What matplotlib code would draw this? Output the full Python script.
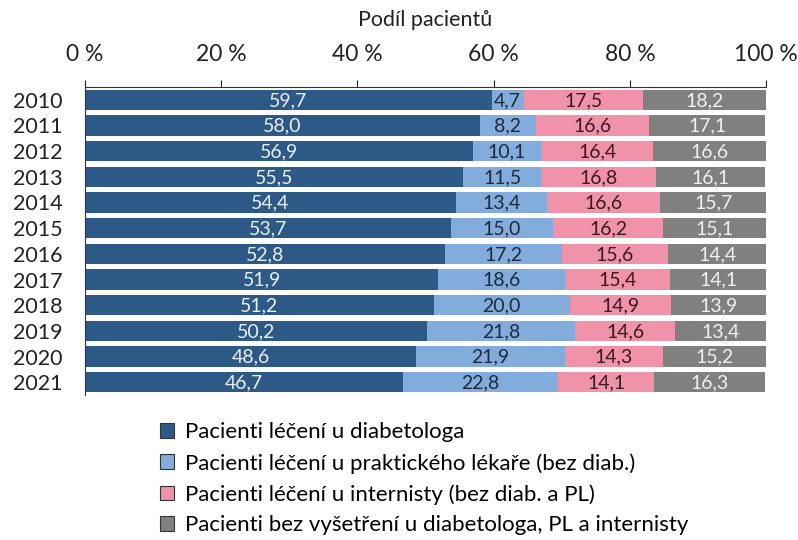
import matplotlib.pyplot as plt
import matplotlib.ticker as mticker
from matplotlib.patches import Patch

plt.rcParams['font.family'] = ['Lato', 'DejaVu Sans']

roky = ['2010', '2011', '2012', '2013', '2014', '2015', '2016', '2017', '2018', '2019', '2020', '2021']
diabetolog = [59.7, 58.0, 56.9, 55.5, 54.4, 53.7, 52.8, 51.9, 51.2, 50.2, 48.6, 46.7]
prakticky = [4.7, 8.2, 10.1, 11.5, 13.4, 15.0, 17.2, 18.6, 20.0, 21.8, 21.9, 22.8]
internista = [17.5, 16.6, 16.4, 16.8, 16.6, 16.2, 15.6, 15.4, 14.9, 14.6, 14.3, 14.1]
bez_vysetreni = [18.2, 17.1, 16.6, 16.1, 15.7, 15.1, 14.4, 14.1, 13.9, 13.4, 15.2, 16.3]

nazvy = ['Pacienti léčení u diabetologa',
         'Pacienti léčení u praktického lékaře (bez diab.)',
         'Pacienti léčení u internisty (bez diab. a PL)',
         'Pacienti bez vyšetření u diabetologa, PL a internisty']
barvy = ['#2d5986', '#82acdb', '#f092aa', '#808080']
barvy_textu = ['#e8eef6', '#1c2a3c', '#3a1a22', '#f0f0f0']

fig = plt.figure(figsize=(7.98, 5.4), dpi=100)
ax = fig.add_axes([0.1065, 0.2685, 0.8535, 0.5704])

y = list(range(len(roky)))
vlevo = [0] * len(roky)
for serie, barva, tb in zip([diabetolog, prakticky, internista, bez_vysetreni], barvy, barvy_textu):
    ax.barh(y, serie, left=vlevo, height=0.78, color=barva)
    for i, v in enumerate(serie):
        ax.text(vlevo[i] + v / 2, i + 0.03, f'{v:.1f}'.replace('.', ','), ha='center', va='center',
                color=tb, fontsize=14)
    vlevo = [a + b for a, b in zip(vlevo, serie)]

ax.set_xlim(0, 100)
ax.set_ylim(11.5, -0.5)
ax.set_yticks(y)
ax.set_yticklabels(roky, fontsize=15.5, color='#222222')
ax.tick_params(axis='y', length=0, pad=16)
ax.xaxis.tick_top()
ax.xaxis.set_label_position('top')
ax.set_xticks([0, 20, 40, 60, 80, 100])
ax.xaxis.set_major_formatter(mticker.FuncFormatter(lambda x, p: f'{x:.0f} %'))
ax.tick_params(axis='x', labelsize=16.5, colors='#222222', length=5, pad=11)
ax.set_xlabel('Podíl pacientů', fontsize=15.5, color='#222222', labelpad=13)
for s in ['right', 'bottom']:
    ax.spines[s].set_visible(False)
ax.spines['top'].set_color('#333333')
ax.spines['left'].set_color('#333333')

handles = [Patch(facecolor=c, edgecolor='#333333', linewidth=0.8) for c in barvy]
fig.legend(handles, nazvy, loc='upper left', bbox_to_anchor=(0.2, 0.218), frameon=False,
           fontsize=16, handlelength=0.65, handleheight=0.65, handletextpad=0.5,
           labelspacing=0.48, borderaxespad=0, borderpad=0)

plt.savefig('out.png', dpi=100)
plt.close()
